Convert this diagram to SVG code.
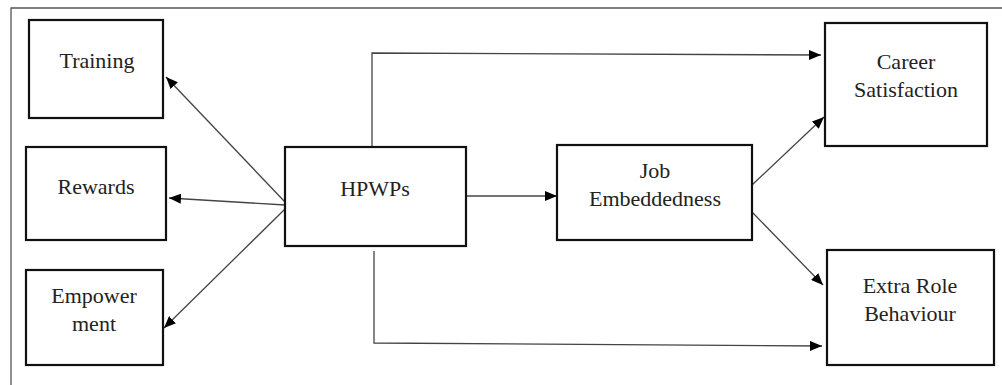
<svg xmlns="http://www.w3.org/2000/svg" width="1002" height="385" viewBox="0 0 1002 385">
<defs>
<style>
.box{fill:#fff;stroke:#111;stroke-width:2.2}
.t{font-family:"Liberation Serif","Times New Roman",serif;font-size:22px;fill:#222;text-anchor:middle}
.c{fill:none;stroke:#444;stroke-width:1.3}
.f{fill:none;stroke:#555;stroke-width:1.3}
</style>
<marker id="ah" viewBox="0 0 12 10" refX="12" refY="5" markerWidth="12" markerHeight="10" markerUnits="userSpaceOnUse" orient="auto">
<path d="M0,0 L12,5 L0,10 Z" fill="#000"/>
</marker>
</defs>
<rect width="1002" height="385" fill="#fff"/>
<g id="frame">
<path class="f" d="M11,385 V8 H1002"/>
</g>
<g id="connectors">
<line class="c" x1="285" y1="202" x2="166" y2="77" marker-end="url(#ah)"/>
<line class="c" x1="285" y1="205" x2="169" y2="198" marker-end="url(#ah)"/>
<line class="c" x1="285" y1="209" x2="164" y2="328" marker-end="url(#ah)"/>
<line class="c" x1="466" y1="196" x2="557" y2="196" marker-end="url(#ah)"/>
<polyline class="c" points="372,147 372,53 821,55" marker-end="url(#ah)"/>
<polyline class="c" points="374,251 374,343 822,346" marker-end="url(#ah)"/>
<line class="c" x1="752" y1="185" x2="824" y2="117" marker-end="url(#ah)"/>
<line class="c" x1="752" y1="212" x2="823" y2="285" marker-end="url(#ah)"/>
</g>
<g id="training">
<rect class="box" x="29" y="20" width="134" height="98"/>
<text class="t" x="97" y="68">Training</text>
</g>
<g id="rewards">
<rect class="box" x="26" y="147" width="140" height="93"/>
<text class="t" x="96" y="194">Rewards</text>
</g>
<g id="empowerment">
<rect class="box" x="26" y="270" width="137" height="95"/>
<text class="t" x="94" y="303">Empower</text>
<text class="t" x="94" y="331">ment</text>
</g>
<g id="hpwps">
<rect class="box" x="285" y="147" width="181" height="99"/>
<text class="t" x="375" y="196">HPWPs</text>
</g>
<g id="job">
<rect class="box" x="557" y="145" width="195" height="95"/>
<text class="t" x="655" y="178">Job</text>
<text class="t" x="655" y="206">Embeddedness</text>
</g>
<g id="career">
<rect class="box" x="825" y="23" width="162" height="123"/>
<text class="t" x="906" y="69">Career</text>
<text class="t" x="906" y="97">Satisfaction</text>
</g>
<g id="extra">
<rect class="box" x="827" y="250" width="167" height="115"/>
<text class="t" x="910" y="293">Extra Role</text>
<text class="t" x="910" y="321">Behaviour</text>
</g>
</svg>
